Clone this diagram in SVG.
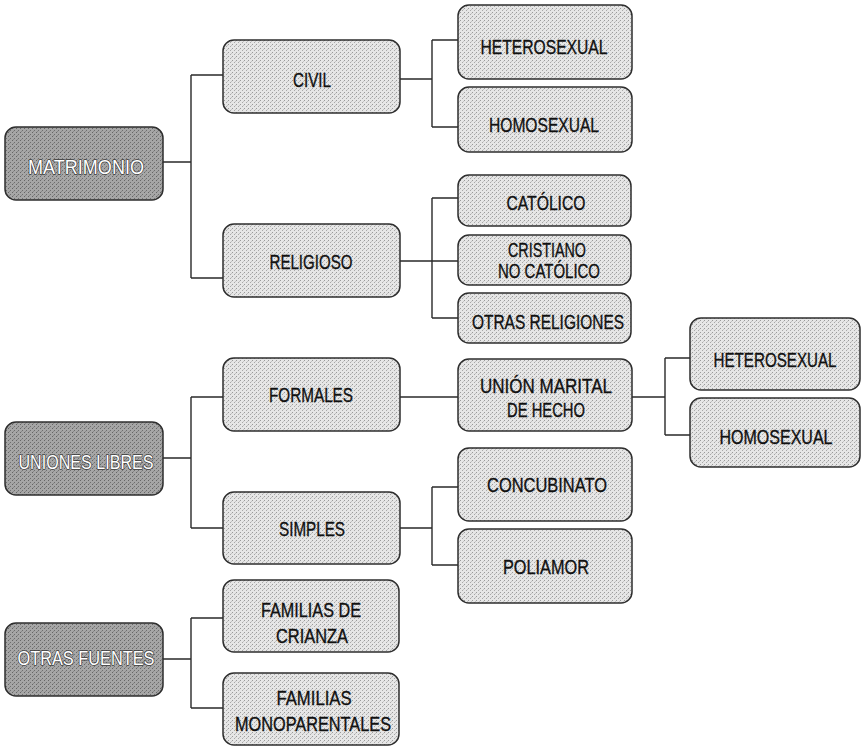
<svg xmlns="http://www.w3.org/2000/svg" width="862" height="747" viewBox="0 0 862 747">
<defs>
<pattern id="dotL" width="4" height="4" patternUnits="userSpaceOnUse">
<rect width="4" height="4" fill="#e6e6e6"/>
<rect x="0" y="0" width="1" height="1" fill="#9a9a9a"/>
<rect x="2" y="2" width="1" height="1" fill="#a8a8a8"/>
<rect x="3" y="1" width="1" height="1" fill="#c4c4c4"/>
</pattern>
<pattern id="dotD" width="4" height="4" patternUnits="userSpaceOnUse">
<rect width="4" height="4" fill="#a6a6a6"/>
<rect x="0" y="0" width="1" height="1" fill="#666"/>
<rect x="2" y="2" width="1" height="1" fill="#6e6e6e"/>
<rect x="1" y="3" width="1" height="1" fill="#888"/>
</pattern>
</defs>
<style>
.l{fill:url(#dotL);stroke:#2e2e2e;stroke-width:1.5}
.d{fill:url(#dotD);stroke:#2e2e2e;stroke-width:1.5}
text{font-family:"Liberation Sans Narrow","Liberation Sans",Arial,sans-serif;font-size:21px;text-anchor:middle;fill:#111;stroke:#111;stroke-width:0.35}
text.w{fill:#fff;stroke:#3a3a3a;stroke-width:1.6;paint-order:stroke;stroke-linejoin:round}
#connectors path{fill:none;stroke:#2a2a2a;stroke-width:1.4}
</style>
<rect width="862" height="747" fill="#fff"/>
<g id="connectors">
<path d="M163 162H191M191 75V278M191 75H223M191 278H223"/>
<path d="M400 79H432M432 40V127M432 40H458M432 127H458"/>
<path d="M400 261H458M432 198V318M432 198H458M432 318H458"/>
<path d="M163 458H191M191 397V528M191 397H223M191 528H223"/>
<path d="M400 397H458"/>
<path d="M632 397H665M665 358V435M665 358H690M665 435H690"/>
<path d="M400 528H432M432 487V565M432 487H458M432 565H458"/>
<path d="M163 659H191M191 618V708M191 618H223M191 708H223"/>
</g>
<g id="matrimonio"><rect class="d" x="5" y="127" width="158" height="73" rx="11"/><text class="w" x="86" y="174" textLength="116" lengthAdjust="spacingAndGlyphs">MATRIMONIO</text></g>
<g id="civil"><rect class="l" x="223" y="40" width="177" height="73" rx="11"/><text x="312" y="87" textLength="38" lengthAdjust="spacingAndGlyphs">CIVIL</text></g>
<g id="civil-hetero"><rect class="l" x="458" y="5" width="174" height="74" rx="11"/><text x="544" y="54" textLength="127" lengthAdjust="spacingAndGlyphs">HETEROSEXUAL</text></g>
<g id="civil-homo"><rect class="l" x="458" y="87" width="174" height="65" rx="11"/><text x="544" y="132" textLength="110" lengthAdjust="spacingAndGlyphs">HOMOSEXUAL</text></g>
<g id="religioso"><rect class="l" x="223" y="224" width="177" height="73" rx="11"/><text x="311" y="269" textLength="83" lengthAdjust="spacingAndGlyphs">RELIGIOSO</text></g>
<g id="catolico"><rect class="l" x="458" y="175" width="173" height="51" rx="11"/><text x="546" y="210" textLength="79" lengthAdjust="spacingAndGlyphs">CATÓLICO</text></g>
<g id="cristiano"><rect class="l" x="458" y="235" width="173" height="50" rx="11"/><text x="547" y="257" textLength="78" lengthAdjust="spacingAndGlyphs">CRISTIANO</text><text x="549" y="278" textLength="102" lengthAdjust="spacingAndGlyphs">NO CATÓLICO</text></g>
<g id="otras-religiones"><rect class="l" x="458" y="293" width="173" height="50" rx="11"/><text x="548" y="329" textLength="152" lengthAdjust="spacingAndGlyphs">OTRAS RELIGIONES</text></g>
<g id="uniones-libres"><rect class="d" x="5" y="422" width="158" height="73" rx="11"/><text class="w" x="86" y="469" textLength="135" lengthAdjust="spacingAndGlyphs">UNIONES LIBRES</text></g>
<g id="formales"><rect class="l" x="223" y="358" width="177" height="73" rx="11"/><text x="311" y="402" textLength="84" lengthAdjust="spacingAndGlyphs">FORMALES</text></g>
<g id="union-marital"><rect class="l" x="458" y="359" width="174" height="72" rx="11"/><text x="546" y="393" textLength="132" lengthAdjust="spacingAndGlyphs">UNIÓN MARITAL</text><text x="546" y="417" textLength="78" lengthAdjust="spacingAndGlyphs">DE HECHO</text></g>
<g id="um-hetero"><rect class="l" x="690" y="318" width="170" height="72" rx="11"/><text x="775" y="367" textLength="123" lengthAdjust="spacingAndGlyphs">HETEROSEXUAL</text></g>
<g id="um-homo"><rect class="l" x="690" y="398" width="170" height="69" rx="11"/><text x="776" y="444" textLength="113" lengthAdjust="spacingAndGlyphs">HOMOSEXUAL</text></g>
<g id="simples"><rect class="l" x="223" y="492" width="177" height="72" rx="11"/><text x="312" y="536" textLength="66" lengthAdjust="spacingAndGlyphs">SIMPLES</text></g>
<g id="concubinato"><rect class="l" x="458" y="448" width="174" height="73" rx="11"/><text x="547" y="492" textLength="120" lengthAdjust="spacingAndGlyphs">CONCUBINATO</text></g>
<g id="poliamor"><rect class="l" x="458" y="529" width="174" height="74" rx="11"/><text x="546" y="574" textLength="86" lengthAdjust="spacingAndGlyphs">POLIAMOR</text></g>
<g id="otras-fuentes"><rect class="d" x="5" y="623" width="158" height="73" rx="11"/><text class="w" x="86" y="665" textLength="137" lengthAdjust="spacingAndGlyphs">OTRAS FUENTES</text></g>
<g id="familias-crianza"><rect class="l" x="223" y="580" width="176" height="72" rx="11"/><text x="311" y="617" textLength="100" lengthAdjust="spacingAndGlyphs">FAMILIAS DE</text><text x="312" y="643" textLength="72" lengthAdjust="spacingAndGlyphs">CRIANZA</text></g>
<g id="familias-monoparentales"><rect class="l" x="223" y="673" width="176" height="72" rx="11"/><text x="314" y="705" textLength="75" lengthAdjust="spacingAndGlyphs">FAMILIAS</text><text x="313" y="731" textLength="156" lengthAdjust="spacingAndGlyphs">MONOPARENTALES</text></g>
</svg>
